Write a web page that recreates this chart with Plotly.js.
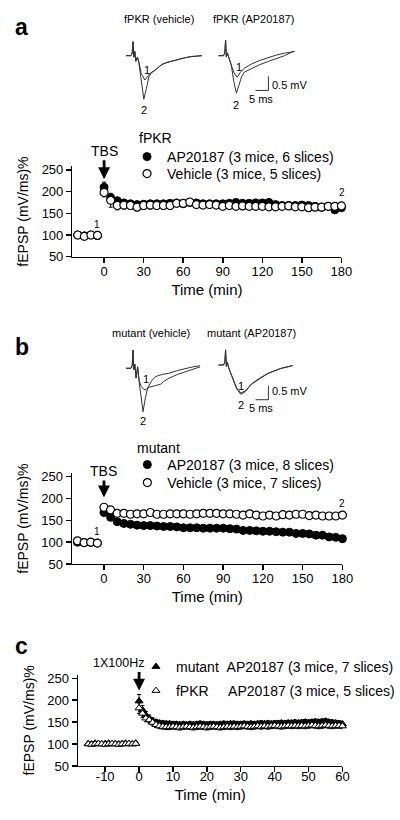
<!DOCTYPE html>
<html>
<head>
<meta charset="utf-8">
<script src="https://cdn.plot.ly/plotly-3.0.1.min.js"></script>
<style>html,body{margin:0;padding:0;background:#fff;}#chart{width:400px;height:820px;}</style>
</head>
<body>
<div id="chart"></div>
<script>
// ---------------- data ----------------
const timeAB = [-20,-15,-10,-5,0,5,10,15,20,25,30,35,40,45,50,55,60,65,70,75,80,85,90,95,100,105,110,115,120,125,130,135,140,145,150,155,160,165,170,175,180];
const tickTimeAB = [0,30,60,90,120,150,180];
const tickFepsp = [50,100,150,200,250];

const aAP     = [100,98,100,99,210,186,179,174,172,170,171,172,172,172,173,174,172,175,174,172,172,172,172,173,175,173,173,174,174,175,170,168,168,168,169,168,166,164,166,158,163];
const aAPErr  = [3,3,3,3,12,8,6,6,5,6,5,5,5,5,5,5,5,5,5,5,5,5,5,5,5,5,5,5,5,5,5,5,5,5,5,5,5,5,5,6,5];
const aVeh    = [100,97,100,99,198,180,168,169,168,164,168,169,168,168,168,173,173,176,170,169,170,169,166,168,166,167,166,166,166,165,165,166,167,165,165,163,164,164,166,166,167];
const aVehErr = [3,3,3,3,10,16,10,9,8,8,9,9,8,8,9,6,6,5,6,6,5,5,6,5,5,5,5,6,5,5,5,5,6,5,6,7,6,6,6,7,6];

const bAP     = [100,99,100,98,168,157,147,143,141,139,138,138,137,136,136,135,133,133,133,132,132,132,132,131,130,127,127,126,125,125,124,123,123,120,120,119,116,116,112,111,108];
const bAPErr  = [2,2,2,2,4,3,3,3,3,3,3,3,3,3,3,3,3,3,3,3,3,3,3,3,3,3,3,3,3,3,3,3,3,3,3,3,3,3,3,3,3];
const bVeh    = [103,99,100,98,180,174,166,166,164,165,165,168,164,164,165,165,165,164,165,166,166,166,165,165,164,162,165,162,160,162,160,163,162,164,164,161,162,160,160,160,162];
const bVehErr = [3,3,3,3,5,5,4,4,4,4,4,4,4,4,4,5,5,5,5,6,6,6,6,6,6,5,6,6,6,6,5,6,6,6,6,6,6,6,7,7,6];

const timeC = [-15,-14,-13,-12,-11,-10,-9,-8,-7,-6,-5,-4,-3,-2,-1,0,1,2,3,4,5,6,7,8,9,10,11,12,13,14,15,16,17,18,19,20,21,22,23,24,25,26,27,28,29,30,31,32,33,34,35,36,37,38,39,40,41,42,43,44,45,46,47,48,49,50,51,52,53,54,55,56,57,58,59,60];
const tickTimeC = [-10,0,10,20,30,40,50,60];
const cMut    = [101,100,102,101,100,101,102,100,101,100,101,102,101,100,102,
                 198,178,166,159,153,150,148,147,146,146,145,145,144,145,144,145,144,145,146,145,144,145,145,144,145,146,145,146,146,145,
                 145,146,145,146,145,146,147,146,147,146,147,147,148,147,148,148,149,148,149,150,149,150,151,150,151,152,150,149,148,147,146];
const cMutErr = [3,3,3,3,3,3,3,3,3,3,3,3,3,3,3,
                 15,10,8,7,7,6,6,6,6,6,6,6,6,6,6,6,6,6,6,6,6,6,6,6,6,6,6,6,6,6,
                 6,6,6,6,6,6,6,6,6,6,6,6,6,6,6,6,6,6,6,6,6,6,6,6,6,6,6,6,6,6,6];
const cFpkr   = [100,99,100,101,100,99,100,101,100,99,100,100,101,100,101,
                 182,170,159,155,149,144,141,140,139,139,140,139,138,139,140,139,138,139,140,139,138,139,140,139,138,139,140,139,140,139,
                 140,141,140,139,140,141,140,141,140,141,142,141,140,141,142,141,142,141,142,141,142,143,142,141,142,143,142,141,142,142,141];
const cFpkrErr= [3,3,3,3,3,3,3,3,3,3,3,3,3,3,3,
                 12,9,8,7,6,6,6,6,6,6,6,6,6,6,6,6,6,6,6,6,6,6,6,6,6,6,6,6,6,6,
                 6,6,6,6,6,6,6,6,6,6,6,6,6,6,6,6,6,6,6,6,6,6,6,6,6,6,6,6,6,6,6];

// example field-potential traces (ms, mV)
const aVehT2ms = [0,2.0,2.5,2.8,3.1,3.5,3.9,4.5,5.0,6.0,7.0,8.0,9.0,10.0,10.9,12.5,14.1,16.0,17.9,20.5,23.1,25.5,28.2,29.5];
const aVehT2mv = [0,0,0.1,0.5,-0.05,0.15,-0.2,-0.05,-0.2,-0.93,-1.55,-1.17,-0.75,-0.6,-0.55,-0.42,-0.31,-0.24,-0.19,-0.12,-0.07,-0.03,0,0];
const aVehT1ms = [0,2.0,2.5,2.8,3.1,3.5,3.9,4.5,5.0,6.0,7.4,8.5,9.5,10.9,12.5,14.1,16.0,17.9,20.5,23.1,25.5,28.2,29.5];
const aVehT1mv = [0,0,0.1,0.5,-0.05,0.15,-0.2,-0.05,-0.2,-0.63,-0.87,-0.72,-0.62,-0.55,-0.42,-0.31,-0.24,-0.19,-0.12,-0.07,-0.03,0,0];
const aApT2ms  = [0,2.0,2.5,2.8,3.1,3.5,4.0,5.0,6.0,7.0,8.0,9.0,10.0,12.8,16.0,19.2,22.4,25.6,28.8,29.5];
const aApT2mv  = [0,0,0.1,0.56,-0.05,0.1,-0.05,-0.33,-0.93,-1.34,-1.05,-0.75,-0.59,-0.45,-0.32,-0.21,-0.1,0,0.14,0.15];
const aApT1ms  = [0,2.0,2.5,2.8,3.1,3.5,4.0,5.0,6.0,7.3,8.5,10.0,12.8,16.0,19.2,22.4,25.6,28.8,29.5];
const aApT1mv  = [0,0,0.1,0.56,-0.05,0.1,-0.05,-0.3,-0.6,-0.77,-0.6,-0.45,-0.3,-0.17,-0.07,0.02,0.09,0.14,0.15];
const bVehT2ms = [0,2.0,2.5,2.8,3.1,3.5,4.0,4.6,5.2,6.0,6.7,7.6,8.5,10.0,11.5,14.0,16.7,20.0,23.1,26.0,28.8];
const bVehT2mv = [0,0,0.1,0.65,-0.05,0.15,-0.35,0.05,-0.5,-1.1,-1.55,-1.05,-0.7,-0.45,-0.3,-0.22,-0.18,-0.08,0,0.05,0.09];
const bVehT1ms = [0,2.0,2.5,2.8,3.1,3.5,4.0,4.6,5.2,6.0,7.4,9.0,11.5,13.5,15.0,16.7,20.0,23.1,26.0,28.8];
const bVehT1mv = [0,0,0.1,0.65,-0.05,0.15,-0.35,0.05,-0.45,-0.65,-0.78,-0.68,-0.62,-0.57,-0.45,-0.36,-0.22,-0.12,-0.04,0.05];
const bApTms   = [0,2.0,2.5,2.8,3.1,3.5,4.0,5.0,7.0,8.7,10.5,12.8,16.0,19.2,24.3,28.8];
const bApT2mv  = [0,0,0.1,0.54,-0.05,0.1,-0.1,-0.36,-0.83,-1.05,-0.95,-0.69,-0.48,-0.3,-0.12,-0.02];
const bApT1mv  = [0,0,0.1,0.54,-0.05,0.1,-0.1,-0.34,-0.8,-1.0,-0.92,-0.68,-0.47,-0.3,-0.12,-0.02];
const scaleBarMs = [14.4,19.4,19.4];   // 5 ms
const scaleBarMv = [-1.24,-1.24,-0.74]; // 0.5 mV

// ---------------- traces ----------------
const FONT = 'Liberation Sans, Arial, Helvetica, sans-serif';
const filledCircle = {symbol:'circle', size:8, color:'black', line:{color:'black', width:1}};
const openCircle   = {symbol:'circle', size:8, color:'white', line:{color:'black', width:1.2}};
function err(arr){ return {type:'data', array:arr, visible:true, color:'black', thickness:1, width:2}; }

const traces = [
  {x:timeAB, y:aAP, xaxis:'x', yaxis:'y', mode:'markers', marker:filledCircle, error_y:err(aAPErr),
   name:'AP20187 (3 mice, 6 slices)', legend:'legend', cliponaxis:false},
  {x:timeAB, y:aVeh, xaxis:'x', yaxis:'y', mode:'markers', marker:openCircle, error_y:err(aVehErr),
   name:'Vehicle (3 mice, 5 slices)', legend:'legend2', cliponaxis:false},
  {x:timeAB, y:bAP, xaxis:'x2', yaxis:'y2', mode:'markers', marker:filledCircle, error_y:err(bAPErr),
   name:'AP20187 (3 mice, 8 slices)', legend:'legend3', cliponaxis:false},
  {x:timeAB, y:bVeh, xaxis:'x2', yaxis:'y2', mode:'markers', marker:openCircle, error_y:err(bVehErr),
   name:'Vehicle (3 mice, 7 slices)', legend:'legend4', cliponaxis:false},
  {x:timeC, y:cMut, xaxis:'x3', yaxis:'y3', mode:'markers',
   marker:{symbol:'triangle-up', size:7, color:'black', line:{color:'black', width:1}}, error_y:err(cMutErr),
   name:'mutant\u00a0\u00a0AP20187 (3 mice, 7 slices)', legend:'legend5', cliponaxis:false},
  {x:timeC, y:cFpkr, xaxis:'x3', yaxis:'y3', mode:'markers',
   marker:{symbol:'triangle-up', size:7, color:'white', line:{color:'black', width:1}}, error_y:err(cFpkrErr),
   name:'fPKR\u00a0\u00a0\u00a0\u00a0\u00a0AP20187 (3 mice, 5 slices)', legend:'legend6', cliponaxis:false}
];
const lineStyle = {color:'#333', width:1};
function tr(x, y, xa, ya){ return {x:x, y:y, xaxis:xa, yaxis:ya, mode:'lines', line:lineStyle, showlegend:false, hoverinfo:'skip'}; }
traces.push(tr(aVehT1ms, aVehT1mv, 'x4', 'y4'), tr(aVehT2ms, aVehT2mv, 'x4', 'y4'));
traces.push(tr(aApT1ms, aApT1mv, 'x5', 'y5'), tr(aApT2ms, aApT2mv, 'x5', 'y5'), tr(scaleBarMs, scaleBarMv, 'x5', 'y5'));
traces.push(tr(bVehT1ms, bVehT1mv, 'x6', 'y6'), tr(bVehT2ms, bVehT2mv, 'x6', 'y6'));
traces.push(tr(bApTms, bApT1mv, 'x7', 'y7'), tr(bApTms, bApT2mv, 'x7', 'y7'), tr(scaleBarMs, scaleBarMv, 'x7', 'y7'));

// ---------------- layout ----------------
function F(size){ return {size:size, family:FONT, color:'black', weight:400, shadow:'none'}; }
function xAx(domain, range, ticks, anchor, tls){
  return {domain:domain, range:range, anchor:anchor, tickvals:ticks, ticktext:ticks.map(String), ticks:'outside', ticklen:5, tickwidth:1.5,
    tickcolor:'black', showline:true, linewidth:1.5, linecolor:'black', showgrid:false, zeroline:false, ticklabelstandoff:tls,
    tickfont:F(13), title:{text:'Time (min)', font:F(15), standoff:6}};
}
function yAx(domain, anchor){
  return {domain:domain, range:[50,258], anchor:anchor, tickvals:tickFepsp, ticks:'outside', ticklen:5, tickwidth:1.5,
    tickcolor:'black', showline:true, linewidth:1.5, linecolor:'black', showgrid:false, zeroline:false,
    tickfont:F(13), title:{text:'fEPSP (mV/ms)%', font:F(14), standoff:9}};
}
function hid(domain, range, anchor){
  return {domain:domain, range:range, anchor:anchor, visible:false, fixedrange:true};
}
function leg(x, topPx){
  return {x:x, y:1 - topPx/820, font:F(14), bgcolor:'rgba(0,0,0,0)', borderwidth:0, xanchor:'left', yanchor:'top', itemclick:false};
}
function ann(text, xPx, yPx, size, extra){
  return Object.assign({text:text, x:xPx/400, y:1 - yPx/820, xref:'paper', yref:'paper', xanchor:'center', yanchor:'middle',
    showarrow:false, font:F(size)}, extra||{});
}
function arrow(text, xref, yref, yTip, ay, size){
  return {text:text, x:0, y:yTip, xref:xref, yref:yref, showarrow:true, ax:0, ay:ay, arrowhead:2, arrowsize:0.85, arrowwidth:2.8,
    arrowcolor:'black', standoff:0, font:F(size)};
}

const annotations = [
  ann('<b>a</b>', 21.7, 26.7, 23), ann('<b>b</b>', 22, 346.7, 23), ann('<b>c</b>', 21.7, 646, 23),
  ann('fPKR (vehicle)', 160, 19, 11), ann('fPKR (AP20187)', 255, 19, 11),
  ann('mutant (vehicle)', 152.5, 333, 11), ann('mutant (AP20187)', 253, 333, 11),
  ann('1', 148.3, 70, 11), ann('2', 145, 110, 11),
  ann('1', 240.7, 66.7, 11), ann('2', 237.3, 105, 11),
  ann('1', 147.3, 379, 11), ann('2', 144, 421, 11),
  ann('1', 243.3, 385.7, 11), ann('2', 242.7, 405, 11),
  ann('0.5 mV', 291.7, 85, 11), ann('5 ms', 263, 99.3, 11),
  ann('0.5 mV', 292, 391, 11), ann('5 ms', 263, 408, 11),
  ann('1', 97.7, 224.3, 10), ann('2', 344.7, 192.7, 10),
  ann('1', 97.7, 531.7, 10), ann('2', 345, 503.3, 10),
  ann('fPKR', 138, 138, 14, {xanchor:'left'}),
  ann('mutant', 136, 448, 14, {xanchor:'left'}),
  ann('1X100Hz', 119, 662.5, 12.5),
  arrow('TBS', 'x', 'y', 228.5, -28.6, 14),
  arrow('TBS', 'x2', 'y2', 202.8, -26.3, 14),
  arrow('', 'x3', 'y3', 222, -20, 12)
];

const layout = {
  width:400, height:820, margin:{l:0, r:0, t:0, b:0}, paper_bgcolor:'white', plot_bgcolor:'white',
  font:F(12), showlegend:true,
  xaxis:  xAx([0.1825, 0.86], [-24, 180], tickTimeAB, 'y', -3),
  yaxis:  yAx([0.6870, 0.7970], 'x'),
  xaxis2: xAx([0.1818, 0.8625], [-24, 180], tickTimeAB, 'y2', -3),
  yaxis2: yAx([0.3122, 0.4229], 'x2'),
  xaxis3: xAx([0.1967, 0.8625], [-18, 60], tickTimeC, 'y3', -7),
  yaxis3: yAx([0.0659, 0.1771], 'x3'),
  xaxis4: hid([0.3168, 0.5248], [0, 32], 'y4'), yaxis4: hid([0.8706, 0.9594], [-1.8, 0.8], 'x4'),
  xaxis5: hid([0.55, 0.758], [0, 32], 'y5'),    yaxis5: hid([0.8706, 0.9594], [-1.8, 0.8], 'x5'),
  xaxis6: hid([0.3168, 0.5248], [0, 32], 'y6'), yaxis6: hid([0.4894, 0.5782], [-1.8, 0.8], 'x6'),
  xaxis7: hid([0.55, 0.758], [0, 32], 'y7'),    yaxis7: hid([0.4934, 0.5822], [-1.8, 0.8], 'x7'),
  legend:  leg(0.32, 141),
  legend2: leg(0.32, 158),
  legend3: leg(0.3208, 449),
  legend4: leg(0.3208, 467),
  legend5: leg(0.3425, 651),
  legend6: leg(0.3425, 675),
  annotations: annotations
};

Plotly.newPlot('chart', traces, layout, {staticPlot:true, displayModeBar:false});
</script>
</body>
</html>
